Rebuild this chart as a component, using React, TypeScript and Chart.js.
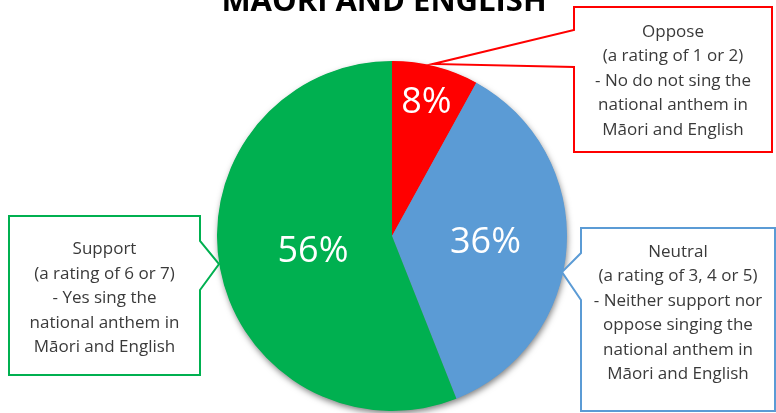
import React, { useEffect, useRef } from "react";
import { Chart, registerables } from "chart.js";

Chart.register(...registerables);

// ---- data ----
const categories = ["Oppose", "Neutral", "Support"];
const values = [8, 36, 56];
const sliceColors = ["#FF0000", "#5B9BD5", "#00B050"];
const titleText = "MĀORI AND ENGLISH";
const opposeText = ["Oppose", "(a rating of 1 or 2)", "- No do not sing the", "national anthem in", "Māori and English"];
const neutralText = ["Neutral", "(a rating of 3, 4 or 5)", "- Neither support nor", "oppose singing the", "national anthem in", "Māori and English"];
const supportText = ["Support", "(a rating of 6 or 7)", "- Yes sing the", "national anthem in", "Māori and English"];

// ---- presentation ----
const FONT = "'Open Sans', 'Noto Sans', sans-serif";
const TEXT_COLOR = "#3A3A3A";
const labelRadiusFraction = [0.79, 0.535, 0.46];

type Callout = {
  lines: string[];
  color: string;
  box: { x: number; y: number; w: number; h: number };
  side: "left" | "right";
  base: [number, number];
  tip: [number, number];
  textCenterY: number;
};

const callouts: Callout[] = [
  { lines: opposeText, color: sliceColors[0], box: { x: 574, y: 7, w: 198, h: 145 }, side: "left", base: [30, 67], tip: [433, 64], textCenterY: 81 },
  { lines: neutralText, color: sliceColors[1], box: { x: 581, y: 228, w: 194, h: 183 }, side: "left", base: [253, 300], tip: [562, 272], textCenterY: 313 },
  { lines: supportText, color: sliceColors[2], box: { x: 9, y: 216, w: 191, h: 159 }, side: "right", base: [241, 290], tip: [219, 264], textCenterY: 298.5 },
];

const overlayPlugin = {
  id: "overlay",
  beforeDatasetsDraw(chart: any) {
    const ctx = chart.ctx as CanvasRenderingContext2D;
    const arc = chart.getDatasetMeta(0).data[0];
    if (!arc) return;
    const { x, y, outerRadius } = arc.getProps(["x", "y", "outerRadius"], true);
    ctx.save();
    ctx.shadowColor = "rgba(0,0,0,0.5)";
    ctx.shadowBlur = 6;
    ctx.shadowOffsetX = 1;
    ctx.shadowOffsetY = 3;
    ctx.beginPath();
    ctx.arc(x, y, outerRadius - 0.5, 0, Math.PI * 2);
    ctx.fillStyle = "#888";
    ctx.fill();
    ctx.restore();
  },
  afterDatasetsDraw(chart: any) {
    const ctx = chart.ctx as CanvasRenderingContext2D;
    const meta = chart.getDatasetMeta(0);
    const total = values.reduce((a, b) => a + b, 0);
    ctx.save();
    ctx.fillStyle = "#FFFFFF";
    ctx.font = `36px ${FONT}`;
    ctx.textAlign = "center";
    ctx.textBaseline = "middle";
    meta.data.forEach((el: any, i: number) => {
      const { x, y, startAngle, endAngle, outerRadius } = el.getProps(["x", "y", "startAngle", "endAngle", "outerRadius"], true);
      const mid = (startAngle + endAngle) / 2;
      const r = outerRadius * labelRadiusFraction[i];
      const pct = Math.round((values[i] / total) * 100) + "%";
      ctx.fillText(pct, x + Math.cos(mid) * r, y + Math.sin(mid) * r + 1);
    });
    ctx.restore();
  },
  afterDraw(chart: any) {
    const ctx = chart.ctx as CanvasRenderingContext2D;
    ctx.save();
    // title (second line, partly cut off at top)
    ctx.fillStyle = "#000000";
    ctx.font = `bold 31px ${FONT}`;
    ctx.textAlign = "center";
    ctx.textBaseline = "alphabetic";
    ctx.fillText(titleText, 384, 11);

    // callouts
    callouts.forEach((c) => {
      const { x, y, w, h } = c.box;
      ctx.beginPath();
      if (c.side === "left") {
        ctx.moveTo(x, y);
        ctx.lineTo(x + w, y);
        ctx.lineTo(x + w, y + h);
        ctx.lineTo(x, y + h);
        ctx.lineTo(x, c.base[1]);
        ctx.lineTo(c.tip[0], c.tip[1]);
        ctx.lineTo(x, c.base[0]);
      } else {
        ctx.moveTo(x, y);
        ctx.lineTo(x + w, y);
        ctx.lineTo(x + w, c.base[0]);
        ctx.lineTo(c.tip[0], c.tip[1]);
        ctx.lineTo(x + w, c.base[1]);
        ctx.lineTo(x + w, y + h);
        ctx.lineTo(x, y + h);
      }
      ctx.closePath();
      ctx.fillStyle = "#FFFFFF";
      ctx.fill();
      ctx.lineWidth = 2;
      ctx.strokeStyle = c.color;
      ctx.lineJoin = "miter";
      ctx.stroke();

      ctx.fillStyle = TEXT_COLOR;
      ctx.font = `17px ${FONT}`;
      ctx.textAlign = "center";
      ctx.textBaseline = "middle";
      const lh = 24.5;
      const startY = c.textCenterY - ((c.lines.length - 1) * lh) / 2;
      c.lines.forEach((line, i) => {
        ctx.fillText(line, x + w / 2, startY + i * lh);
      });
    });
    ctx.restore();
  },
};

export default function App() {
  const canvasRef = useRef<HTMLCanvasElement | null>(null);

  useEffect(() => {
    if (!canvasRef.current) return;
    const chart = new Chart(canvasRef.current, {
      type: "pie",
      data: {
        labels: categories,
        datasets: [
          {
            data: values,
            backgroundColor: sliceColors,
            borderWidth: 0,
          },
        ],
      },
      options: {
        animation: false,
        responsive: true,
        maintainAspectRatio: false,
        layout: { padding: { top: 61, bottom: 2, left: 217, right: 209 } },
        plugins: {
          legend: { display: false },
          tooltip: { enabled: false },
          title: { display: false },
        },
      },
      plugins: [overlayPlugin],
    });
    return () => chart.destroy();
  }, []);

  return (
    <div style={{ position: "fixed", left: 0, top: 0, width: 776, height: 413, background: "#FFFFFF" }}>
      <canvas ref={canvasRef} />
    </div>
  );
}
